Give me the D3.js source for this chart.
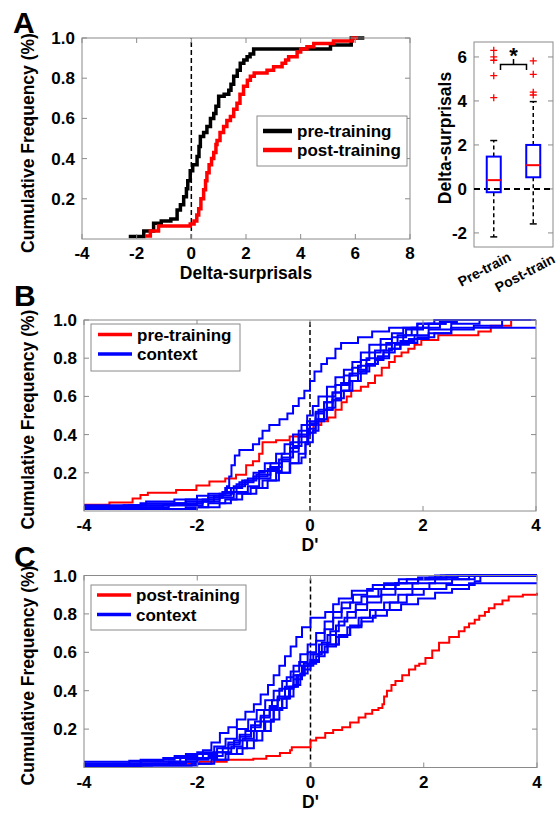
<!DOCTYPE html>
<html lang="en">
<head>
<meta charset="utf-8">
<title>Cumulative frequency panels</title>
<script src="https://d3js.org/d3.v7.min.js"></script>
<style>
  body { margin: 0; background: #fff; }
  text { font-family: "Liberation Sans", Arial, sans-serif; font-weight: bold; fill: #000; }
</style>
</head>
<body>
<div id="chart"></div>
<script>
// ---- data ----
var cdfTicksY = [0.2, 0.4, 0.6, 0.8, 1.0];
var aTicksX = [-4, -2, 0, 2, 4, 6, 8];
var dTicksX = [-4, -2, 0, 2, 4];

// panel A: empirical CDF of delta-surprisals, [value, cumulative]
var aPre = [[-2.29,0.012],[-1.74,0.04],[-1.38,0.078],[-1.1,0.09],[-0.75,0.1],[-0.52,0.144],[-0.4,0.17],
  [-0.28,0.21],[-0.18,0.25],[-0.13,0.29],[-0.04,0.34],[0.05,0.37],[0.21,0.41],[0.28,0.46],[0.33,0.51],
  [0.45,0.53],[0.57,0.56],[0.7,0.6],[0.82,0.625],[0.9,0.66],[1.0,0.71],[1.2,0.72],[1.37,0.74],[1.45,0.77],
  [1.55,0.81],[1.68,0.84],[1.79,0.874],[1.92,0.89],[2.04,0.907],[2.15,0.92],[2.28,0.945],[5.09,0.965],
  [5.85,1.0],[6.33,1.0]];
var aPost = [[-1.69,0.015],[-1.5,0.04],[-1.2,0.065],[-0.04,0.075],[0.1,0.09],[0.2,0.12],[0.27,0.15],
  [0.35,0.2],[0.45,0.245],[0.52,0.29],[0.57,0.33],[0.65,0.37],[0.74,0.4],[0.82,0.43],[0.9,0.47],[0.94,0.49],
  [1.05,0.53],[1.18,0.56],[1.3,0.59],[1.43,0.61],[1.55,0.645],[1.67,0.675],[1.78,0.72],[1.91,0.76],
  [2.05,0.79],[2.16,0.81],[2.3,0.826],[2.77,0.84],[3.01,0.857],[3.32,0.874],[3.45,0.89],[3.56,0.907],
  [3.87,0.93],[4.0,0.945],[4.23,0.957],[4.48,0.973],[5.2,0.985],[5.9,1.0],[6.1,1.0]];

// panel A inset: boxplot
var boxGroups = ["Pre-train", "Post-train"];
var boxTicks = [-2, 0, 2, 4, 6];
var boxQ1 = [-0.15, 0.53];
var boxMedian = [0.4, 1.08];
var boxQ3 = [1.47, 2.0];
var boxWhiskLo = [-2.18, -1.59];
var boxWhiskHi = [2.2, 3.97];
var boxOutliers = [[6.3, 6.0, 5.85, 5.15, 4.15], [5.82, 5.21, 4.4, 4.27]];

// panel B: D' CDFs
var bPre = [[-4,0.033],[-3.55,0.045],[-3.14,0.065],[-3.0,0.084],[-2.87,0.096],[-2.37,0.11],[-2.01,0.133],
  [-1.78,0.155],[-1.5,0.17],[-1.31,0.19],[-1.13,0.24],[-1.01,0.26],[-0.9,0.3],[-0.84,0.36],[-0.6,0.37],
  [-0.36,0.39],[-0.03,0.41],[0.06,0.45],[0.2,0.47],[0.32,0.49],[0.45,0.53],[0.56,0.57],[0.65,0.6],
  [0.73,0.63],[0.9,0.65],[1.03,0.67],[1.15,0.71],[1.27,0.75],[1.4,0.78],[1.5,0.81],[1.62,0.83],
  [1.74,0.85],[1.85,0.87],[1.97,0.895],[2.27,0.92],[2.98,0.94],[3.2,0.97],[3.56,1.0],[4,1.0]];
var bContext = [
  [[-4,0.02],[-3.3,0.03],[-2.9,0.05],[-2.4,0.06],[-2.0,0.08],[-1.54,0.1],[-1.47,0.13],[-1.43,0.18],
   [-1.39,0.24],[-1.33,0.29],[-1.25,0.32],[-1.01,0.35],[-0.9,0.38],[-0.84,0.42],[-0.72,0.45],[-0.54,0.48],
   [-0.4,0.51],[-0.3,0.55],[-0.2,0.59],[-0.1,0.63],[0.0,0.68],[0.08,0.73],[0.2,0.77],[0.3,0.8],
   [0.45,0.85],[0.55,0.88],[0.85,0.91],[1.1,0.94],[1.4,0.96],[1.9,0.98],[2.3,1.0],[4,1.0]],
  [[-4,0.01],[-3.5,0.02],[-2.6,0.035],[-2.0,0.05],[-1.7,0.08],[-1.4,0.12],[-1.2,0.16],[-1.0,0.2],
   [-0.8,0.25],[-0.6,0.3],[-0.45,0.35],[-0.3,0.4],[-0.15,0.45],[-0.05,0.5],[0.05,0.55],[0.15,0.6],
   [0.3,0.65],[0.45,0.7],[0.6,0.74],[0.75,0.78],[0.9,0.83],[1.05,0.87],[1.25,0.9],[1.45,0.93],
   [1.65,0.96],[1.9,0.98],[2.2,1.0],[4,1.0]],
  [[-4,0.02],[-3.0,0.03],[-2.2,0.05],[-1.8,0.07],[-1.55,0.1],[-1.3,0.14],[-1.1,0.17],[-0.9,0.21],
   [-0.7,0.25],[-0.5,0.3],[-0.35,0.36],[-0.2,0.42],[-0.05,0.47],[0.1,0.52],[0.25,0.57],[0.4,0.62],
   [0.55,0.66],[0.7,0.71],[0.85,0.74],[1.0,0.77],[1.15,0.8],[1.3,0.84],[1.45,0.88],[1.65,0.92],
   [1.9,0.96],[2.3,0.99],[2.6,1.0],[4,1.0]],
  [[-4,0.01],[-2.0,0.02],[-1.6,0.04],[-1.4,0.06],[-1.3,0.09],[-1.05,0.12],[-0.84,0.16],[-0.6,0.2],
   [-0.36,0.25],[-0.15,0.28],[-0.08,0.35],[-0.03,0.43],[0.1,0.48],[0.25,0.53],[0.4,0.58],[0.55,0.63],
   [0.7,0.68],[0.85,0.72],[1.0,0.76],[1.15,0.79],[1.3,0.83],[1.5,0.87],[1.75,0.9],[2.1,0.93],
   [2.5,0.95],[2.9,0.97],[3.4,1.0],[4,1.0]],
  [[-4,0.02],[-2.5,0.03],[-1.9,0.05],[-1.6,0.07],[-1.35,0.1],[-1.1,0.13],[-0.9,0.17],[-0.7,0.21],
   [-0.5,0.26],[-0.35,0.31],[-0.2,0.36],[-0.05,0.41],[0.1,0.47],[0.25,0.53],[0.4,0.58],[0.55,0.63],
   [0.7,0.68],[0.85,0.73],[1.0,0.77],[1.2,0.81],[1.4,0.85],[1.6,0.88],[1.9,0.91],[2.2,0.93],
   [2.5,0.96],[4,0.96]],
  [[-4,0.03],[-3.0,0.04],[-2.2,0.06],[-1.8,0.09],[-1.5,0.12],[-1.25,0.15],[-1.0,0.18],[-0.75,0.22],
   [-0.55,0.27],[-0.35,0.33],[-0.2,0.39],[-0.05,0.45],[0.1,0.51],[0.25,0.57],[0.4,0.62],[0.55,0.67],
   [0.7,0.72],[0.85,0.76],[1.0,0.8],[1.15,0.84],[1.35,0.88],[1.55,0.92],[1.8,0.96],[2.1,0.98],
   [2.4,1.0],[4,1.0]],
  [[-4,0.01],[-2.2,0.02],[-1.8,0.04],[-1.5,0.06],[-1.2,0.09],[-0.95,0.12],[-0.75,0.16],[-0.55,0.2],
   [-0.35,0.25],[-0.2,0.3],[-0.08,0.36],[0.05,0.42],[0.15,0.48],[0.3,0.54],[0.45,0.59],[0.6,0.63],
   [0.75,0.68],[0.9,0.73],[1.05,0.77],[1.2,0.8],[1.4,0.85],[1.6,0.89],[1.85,0.92],[2.1,0.95],
   [2.5,0.98],[3.0,1.0],[4,1.0]],
  [[-4,0.02],[-3.2,0.03],[-2.4,0.04],[-1.9,0.06],[-1.6,0.09],[-1.35,0.13],[-1.15,0.16],[-0.95,0.19],
   [-0.7,0.23],[-0.5,0.28],[-0.3,0.34],[-0.15,0.4],[0.0,0.46],[0.15,0.53],[0.3,0.6],[0.45,0.66],
   [0.6,0.71],[0.75,0.75],[0.9,0.79],[1.05,0.83],[1.25,0.87],[1.45,0.91],[1.7,0.95],[2.0,0.98],
   [2.4,1.0],[4,1.0]]
];

// panel C
var cPost = [[-3.47,0.01],[-2.97,0.02],[-1.96,0.03],[-1.48,0.04],[-1.01,0.045],[-0.78,0.06],[-0.54,0.075],
  [-0.36,0.09],[-0.33,0.105],[0.0,0.14],[0.1,0.155],[0.26,0.18],[0.4,0.195],[0.56,0.21],[0.7,0.235],
  [0.85,0.26],[0.97,0.28],[1.09,0.3],[1.2,0.31],[1.27,0.33],[1.3,0.37],[1.35,0.4],[1.43,0.43],[1.5,0.45],
  [1.62,0.48],[1.74,0.51],[1.85,0.53],[1.92,0.54],[2.03,0.57],[2.15,0.61],[2.27,0.65],[2.45,0.68],
  [2.62,0.71],[2.72,0.73],[2.8,0.75],[2.9,0.77],[2.98,0.79],[3.08,0.81],[3.15,0.83],[3.25,0.85],
  [3.39,0.87],[3.5,0.89],[3.75,0.9],[4,0.91]];
var cContext = [
  [[-4,0.02],[-3.2,0.035],[-2.6,0.05],[-2.2,0.07],[-1.9,0.09],[-1.75,0.13],[-1.6,0.18],[-1.45,0.21],
   [-1.3,0.25],[-1.15,0.29],[-1.0,0.33],[-0.88,0.38],[-0.75,0.43],[-0.65,0.48],[-0.55,0.53],[-0.45,0.58],
   [-0.35,0.63],[-0.25,0.68],[-0.15,0.73],[0.0,0.78],[0.26,0.81],[0.4,0.85],[0.5,0.88],[0.73,0.92],
   [1.1,0.95],[1.56,0.98],[2.2,1.0],[4,1.0]],
  [[-4,0.01],[-2.8,0.02],[-2.2,0.04],[-1.8,0.06],[-1.55,0.1],[-1.35,0.14],[-1.15,0.19],[-0.98,0.24],
   [-0.82,0.3],[-0.68,0.35],[-0.55,0.41],[-0.42,0.47],[-0.3,0.53],[-0.18,0.59],[-0.05,0.64],[0.1,0.7],
   [0.25,0.76],[0.4,0.81],[0.55,0.86],[0.75,0.9],[1.0,0.93],[1.3,0.96],[1.7,0.98],[2.1,0.99],
   [2.6,1.0],[4,1.0]],
  [[-4,0.005],[-3,0.01],[-2.1,0.02],[-1.75,0.04],[-1.5,0.07],[-1.3,0.1],[-1.12,0.14],[-0.95,0.19],
   [-0.8,0.24],[-0.65,0.3],[-0.5,0.36],[-0.38,0.42],[-0.25,0.48],[-0.12,0.54],[0.0,0.59],[0.15,0.64],
   [0.3,0.69],[0.45,0.74],[0.6,0.78],[0.8,0.82],[1.0,0.86],[1.25,0.9],[1.5,0.93],[1.8,0.96],
   [2.2,0.98],[2.8,1.0],[4,1.0]],
  [[-4,0.02],[-3,0.03],[-2.3,0.05],[-1.9,0.07],[-1.65,0.1],[-1.45,0.13],[-1.25,0.17],[-1.05,0.22],
   [-0.88,0.27],[-0.72,0.32],[-0.58,0.37],[-0.45,0.42],[-0.3,0.48],[-0.15,0.53],[0.0,0.56],[0.15,0.6],
   [0.3,0.64],[0.5,0.69],[0.7,0.73],[0.9,0.76],[1.1,0.79],[1.35,0.82],[1.6,0.85],[1.9,0.88],
   [2.2,0.91],[2.5,0.93],[2.8,0.96],[4,0.96]],
  [[-4,0.01],[-3.5,0.02],[-2.5,0.03],[-2.0,0.05],[-1.7,0.08],[-1.45,0.12],[-1.25,0.16],[-1.05,0.21],
   [-0.88,0.26],[-0.72,0.31],[-0.58,0.36],[-0.45,0.41],[-0.3,0.46],[-0.15,0.51],[0.0,0.55],[0.15,0.6],
   [0.3,0.64],[0.5,0.69],[0.7,0.74],[0.9,0.78],[1.15,0.82],[1.4,0.86],[1.7,0.9],[2.0,0.93],
   [2.4,0.95],[2.9,0.97],[3.0,1.0],[4,1.0]],
  [[-4,0.02],[-2.5,0.03],[-2.0,0.05],[-1.65,0.08],[-1.4,0.11],[-1.2,0.15],[-1.0,0.19],[-0.82,0.24],
   [-0.65,0.3],[-0.5,0.36],[-0.36,0.42],[-0.22,0.48],[-0.1,0.53],[0.05,0.59],[0.2,0.65],[0.35,0.71],
   [0.5,0.76],[0.65,0.81],[0.8,0.85],[1.0,0.89],[1.25,0.93],[1.5,0.96],[1.9,0.99],[2.3,1.0],[4,1.0]],
  [[-4,0.01],[-2.0,0.02],[-1.7,0.04],[-1.45,0.07],[-1.2,0.1],[-1.0,0.14],[-0.85,0.19],[-0.7,0.25],
   [-0.55,0.31],[-0.42,0.37],[-0.3,0.43],[-0.18,0.49],[-0.05,0.54],[0.1,0.58],[0.25,0.63],[0.45,0.68],
   [0.65,0.73],[0.85,0.78],[1.05,0.82],[1.3,0.86],[1.55,0.9],[1.8,0.93],[2.1,0.96],[2.5,0.98],
   [2.9,1.0],[4,1.0]],
  [[-4,0.03],[-3.0,0.04],[-2.4,0.06],[-2.0,0.08],[-1.7,0.11],[-1.5,0.15],[-1.3,0.2],[-1.1,0.25],
   [-0.95,0.3],[-0.8,0.35],[-0.65,0.4],[-0.5,0.45],[-0.35,0.5],[-0.2,0.55],[-0.05,0.6],[0.1,0.66],
   [0.25,0.72],[0.4,0.78],[0.55,0.83],[0.7,0.86],[0.9,0.89],[1.2,0.93],[1.5,0.96],[1.9,0.98],
   [2.4,1.0],[4,1.0]]
];

var W = 556, H = 815;
var svg = d3.select("#chart").append("svg").attr("width", W).attr("height", H);
var frameColor = "#8a8a8a";

// generic framed axes with inward ticks on all four sides
function frame(x, y, xt, yt, xFmt, yFmt) {
  var g = svg.append("g");
  var x0 = x.range()[0], x1 = x.range()[1], y0 = y.range()[0], y1 = y.range()[1];
  var tl = 5;
  if (xt) xt.forEach(function(t) {
    g.append("line").attr("x1", x(t)).attr("x2", x(t)).attr("y1", y0).attr("y2", y0 - tl);
    g.append("line").attr("x1", x(t)).attr("x2", x(t)).attr("y1", y1).attr("y2", y1 + tl);
    g.append("text").attr("x", x(t)).attr("y", y0 + 20).attr("text-anchor", "middle")
      .attr("font-size", "17px").text(xFmt(t));
  });
  yt.forEach(function(t) {
    g.append("line").attr("x1", x0).attr("x2", x0 + tl).attr("y1", y(t)).attr("y2", y(t));
    g.append("line").attr("x1", x1).attr("x2", x1 - tl).attr("y1", y(t)).attr("y2", y(t));
    g.append("text").attr("x", x0 - 7).attr("y", y(t) + 6).attr("text-anchor", "end")
      .attr("font-size", "17px").text(yFmt(t));
  });
  g.selectAll("line").attr("stroke", frameColor).attr("stroke-width", 1);
  g.append("rect").attr("x", x0).attr("y", y1).attr("width", x1 - x0).attr("height", y0 - y1)
    .attr("fill", "none").attr("stroke", frameColor).attr("stroke-width", 1);
}

function stepLine(x, y) {
  return d3.line().x(function(d) { return x(d[0]); }).y(function(d) { return y(d[1]); })
    .curve(d3.curveStepAfter);
}

function legend(bx, by, bw, bh, lx0, lx1, rows, lw) {
  svg.append("rect").attr("x", bx).attr("y", by).attr("width", bw).attr("height", bh)
    .attr("fill", "#fff").attr("stroke", frameColor).attr("stroke-width", 1);
  rows.forEach(function(r) {
    svg.append("line").attr("x1", lx0).attr("x2", lx1).attr("y1", r.y).attr("y2", r.y)
      .attr("stroke", r.color).attr("stroke-width", lw);
    svg.append("text").attr("x", lx1 + 5).attr("y", r.y + 6).attr("font-size", "17px").text(r.label);
  });
}

function yLabel(xc, yc, txt) {
  svg.append("text").attr("transform", "translate(" + xc + "," + yc + ") rotate(-90)")
    .attr("text-anchor", "middle").attr("font-size", "17.5px").text(txt);
}

var fmt1 = d3.format(".1f");
var fmtInt = function(t) { return String(t); };

// ---------------- panel A ----------------
var xA = d3.scaleLinear().domain([-4, 8]).range([82, 410]);
var yA = d3.scaleLinear().domain([0, 1]).range([239, 38]);
svg.append("line").attr("x1", xA(0)).attr("x2", xA(0)).attr("y1", yA(0)).attr("y2", yA(1))
  .attr("stroke", "#000").attr("stroke-width", 1.5).attr("stroke-dasharray", "5,3");
svg.append("path").datum(aPre).attr("d", stepLine(xA, yA)).attr("fill", "none")
  .attr("stroke", "#000").attr("stroke-width", 3.5);
svg.append("path").datum(aPost).attr("d", stepLine(xA, yA)).attr("fill", "none")
  .attr("stroke", "#f00").attr("stroke-width", 3.5);
frame(xA, yA, aTicksX, cdfTicksY, fmtInt, fmt1);
legend(257, 116, 150, 50, 263, 292, [
  {y: 131, color: "#000", label: "pre-training"},
  {y: 150, color: "#f00", label: "post-training"}], 4.5);
svg.append("text").attr("x", 246).attr("y", 279).attr("text-anchor", "middle")
  .attr("font-size", "17.5px").text("Delta-surprisals");
yLabel(34, 143, "Cumulative Frequency (%)");
svg.append("text").attr("x", 13).attr("y", 33).attr("font-size", "30px").text("A");

// ---------------- boxplot ----------------
var xBox = d3.scalePoint().domain(boxGroups).range([474, 553]).padding(0.5);
var yBox = d3.scaleLinear().domain([-2.64, 6.68]).range([247, 42]);
frame(xBox, yBox, null, boxTicks, null, fmtInt);
svg.append("line").attr("x1", 474).attr("x2", 553).attr("y1", yBox(0)).attr("y2", yBox(0))
  .attr("stroke", "#000").attr("stroke-width", 2).attr("stroke-dasharray", "6,4");
var bw = 14;
var labelEnd = [[512, 260], [556, 262]];
boxGroups.forEach(function(gname, i) {
  var cx = xBox(gname);
  svg.append("line").attr("x1", cx).attr("x2", cx).attr("y1", yBox(boxQ3[i])).attr("y2", yBox(boxWhiskHi[i]))
    .attr("stroke", "#000").attr("stroke-width", 1.5).attr("stroke-dasharray", "4,3");
  svg.append("line").attr("x1", cx).attr("x2", cx).attr("y1", yBox(boxQ1[i])).attr("y2", yBox(boxWhiskLo[i]))
    .attr("stroke", "#000").attr("stroke-width", 1.5).attr("stroke-dasharray", "4,3");
  [boxWhiskHi[i], boxWhiskLo[i]].forEach(function(v) {
    svg.append("line").attr("x1", cx - 3.5).attr("x2", cx + 3.5).attr("y1", yBox(v)).attr("y2", yBox(v))
      .attr("stroke", "#000").attr("stroke-width", 1.5);
  });
  svg.append("rect").attr("x", cx - bw / 2).attr("y", yBox(boxQ3[i])).attr("width", bw)
    .attr("height", yBox(boxQ1[i]) - yBox(boxQ3[i])).attr("fill", "none")
    .attr("stroke", "#00f").attr("stroke-width", 2);
  svg.append("line").attr("x1", cx - bw / 2).attr("x2", cx + bw / 2)
    .attr("y1", yBox(boxMedian[i])).attr("y2", yBox(boxMedian[i]))
    .attr("stroke", "#f00").attr("stroke-width", 2);
  boxOutliers[i].forEach(function(v) {
    var py = yBox(v);
    svg.append("path").attr("d", "M" + (cx - 3.5) + "," + py + "H" + (cx + 3.5) + "M" + cx + "," + (py - 3.5) + "V" + (py + 3.5))
      .attr("stroke", "#f00").attr("stroke-width", 1.3);
  });
  svg.append("text").attr("transform", "translate(" + labelEnd[i][0] + "," + labelEnd[i][1] + ") rotate(-28)")
    .attr("text-anchor", "end").attr("font-size", "14px").text(gname);
});
// significance bracket
var bL = 500.5, bR = 526.5, bY = 64.5;
svg.append("path").attr("d", "M" + bL + ",70V" + bY + "H" + bR + "V70M" + ((bL + bR) / 2) + "," + bY + "V59")
  .attr("fill", "none").attr("stroke", "#000").attr("stroke-width", 1.5);
svg.append("text").attr("x", (bL + bR) / 2).attr("y", 63).attr("text-anchor", "middle")
  .attr("font-size", "22px").text("*");
yLabel(451, 138, "Delta-surprisals");

// ---------------- panels B and C ----------------
function dPanel(top, bottom, right, redData, blueData, redLabel, leg, letter, letterY) {
  var x = d3.scaleLinear().domain([-4, 4]).range([84, right]);
  var y = d3.scaleLinear().domain([0, 1]).range([bottom, top]);
  var line = stepLine(x, y);
  svg.append("line").attr("x1", x(0)).attr("x2", x(0)).attr("y1", y(0)).attr("y2", y(1))
    .attr("stroke", "#000").attr("stroke-width", 1.5).attr("stroke-dasharray", "5,3");
  svg.append("path").datum(redData).attr("d", line).attr("fill", "none")
    .attr("stroke", "#f00").attr("stroke-width", 2);
  blueData.forEach(function(c) {
    svg.append("path").datum(c).attr("d", line).attr("fill", "none")
      .attr("stroke", "#00f").attr("stroke-width", 2);
  });
  frame(x, y, dTicksX, cdfTicksY, fmtInt, fmt1);
  legend(leg[0], leg[1], leg[2], leg[3], leg[4], leg[5], [
    {y: leg[6], color: "#f00", label: redLabel},
    {y: leg[7], color: "#00f", label: "context"}], 3.5);
  svg.append("text").attr("x", (84 + right) / 2).attr("y", bottom + 40).attr("text-anchor", "middle")
    .attr("font-size", "17.5px").text("D'");
  yLabel(34, (top + bottom) / 2 + 4, "Cumulative Frequency (%)");
  svg.append("text").attr("x", 14).attr("y", letterY).attr("font-size", "30px").text(letter);
}

dPanel(320, 511, 536, bPre, bContext, "pre-training",
  [91, 324, 149, 47, 98, 132, 334.5, 354], "B", 306);
dPanel(575.5, 767.5, 537, cPost, cContext, "post-training",
  [91, 585, 155, 45, 97, 131, 595, 614.5], "C", 567);
</script>
</body>
</html>
